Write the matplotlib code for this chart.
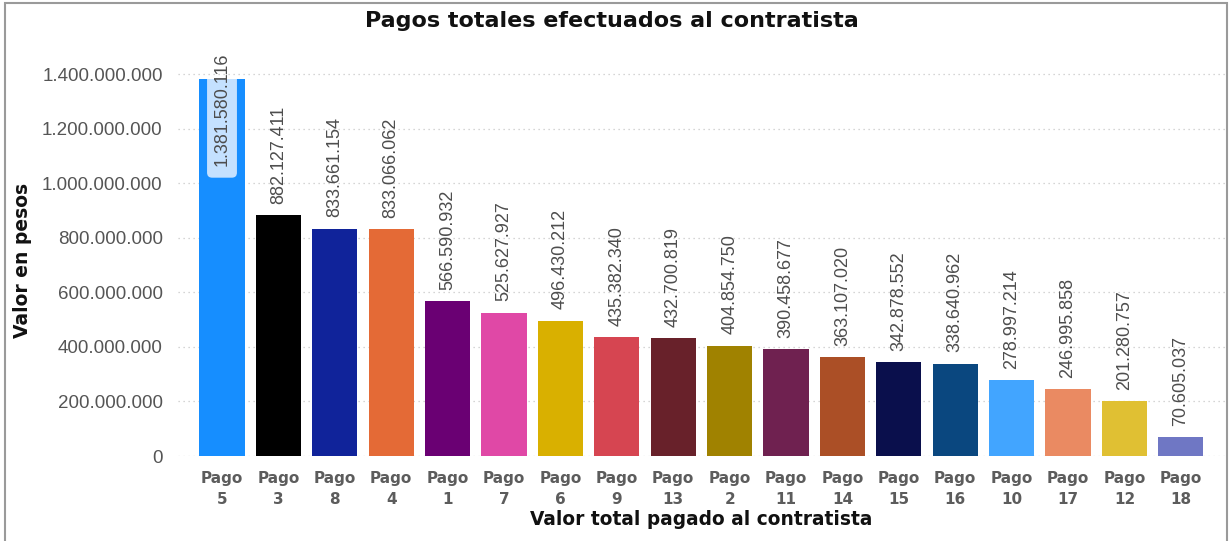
import matplotlib.pyplot as plt
import matplotlib
from matplotlib.patches import Rectangle, FancyBboxPatch
import matplotlib.ticker as ticker

plt.rcParams['font.family'] = ['Liberation Sans', 'DejaVu Sans']

# data
pagos = ['5', '3', '8', '4', '1', '7', '6', '9', '13', '2', '11', '14', '15', '16', '10', '17', '12', '18']
valores = [1381580116, 882127411, 833661154, 833066062, 566590932, 525627927, 496430212,
           435382340, 432700819, 404854750, 390458677, 363107020, 342878552, 338640962,
           278997214, 246995858, 201280757, 70605037]
colores = ['#168eff', '#000000', '#10239a', '#e46a36', '#6a0073', '#e048a6', '#d9b000',
           '#d64551', '#68212a', '#a08200', '#6f2150', '#ab4f26', '#0a0f4c', '#0a477f',
           '#42a5ff', '#ea8a62', '#e0c033', '#6f77c4']
yticks = [0, 200e6, 400e6, 600e6, 800e6, 1000e6, 1200e6, 1400e6]


def miles(v, pos=None):
    return '{:,.0f}'.format(v).replace(',', '.')


heavy = 'DejaVu Sans'

fig = plt.figure(figsize=(12.31, 5.41), dpi=100)
ax = fig.add_axes([0.1446, 0.1571, 0.8504, 0.7505])

x = list(range(len(pagos)))
bars = ax.bar(x, valores, 0.8, color=colores, zorder=3)

ax.set_xlim(-0.78, 17.78)
ax.set_ylim(0, 1.488e9)
ax.set_yticks(yticks)
ax.yaxis.set_major_formatter(ticker.FuncFormatter(miles))
ax.grid(axis='y', linestyle=(0, (1, 3)), color='#c8c8c8', linewidth=0.9, zorder=0)
for s in ax.spines.values():
    s.set_visible(False)
ax.tick_params(axis='both', length=0)
ax.tick_params(axis='y', labelsize=13.5, labelcolor='#555555', pad=11)
ax.set_xticks(x)
ax.set_xticklabels(['Pago\n' + p for p in pagos], fontsize=11, fontweight='bold',
                   family=heavy, color='#5c5c5c', linespacing=1.5)
ax.tick_params(axis='x', pad=11)

# value labels
for i, v in enumerate(valores):
    if i == 0:
        # highlighted label inside the tallest bar
        box = FancyBboxPatch((i - 0.265, 1.02e9), 0.53, 0.42e9,
                             boxstyle='round,pad=0,rounding_size=0.09',
                             mutation_aspect=2.07e8, fc='#c4e1ff', ec='none', zorder=4)
        ax.add_patch(box)
        box.set_clip_path(bars[0])
        ax.text(i, 1.478e9, miles(v), rotation=90, ha='center', va='top', fontsize=13,
                color='#4d4d4d', zorder=5)
    else:
        ax.annotate(miles(v), (i, v), xytext=(0, 8), textcoords='offset points',
                    rotation=90, ha='center', va='bottom', fontsize=13, color='#4d4d4d')

fig.text(0.497, 0.962, 'Pagos totales efectuados al contratista', ha='center', va='center',
         fontsize=16, fontweight='bold', family=heavy, color='#111111')
fig.text(0.5696, 0.039, 'Valor total pagado al contratista', ha='center', va='center',
         fontsize=13.4, fontweight='bold', family=heavy, color='#111111')
fig.text(0.018, 0.519, 'Valor en pesos', rotation=90, ha='center', va='center',
         fontsize=13.5, fontweight='bold', family=heavy, color='#111111')

fig.patches.append(Rectangle((0.004, -0.01), 0.993, 1.005, transform=fig.transFigure,
                             fill=False, edgecolor='#9a9a9a', linewidth=1.5))

plt.savefig('out.png', dpi=100)
